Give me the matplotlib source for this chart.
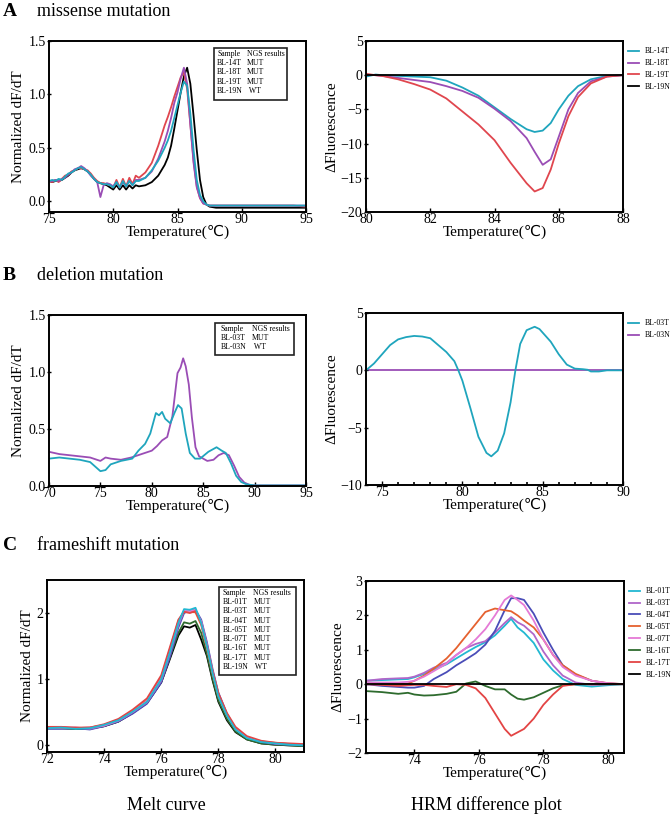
import matplotlib
matplotlib.use("Agg")
import matplotlib.pyplot as plt
from matplotlib.patches import Rectangle
from matplotlib.lines import Line2D

plt.rcParams['font.family'] = ['Liberation Serif', 'DejaVu Sans']
plt.rcParams['mathtext.fontset'] = 'stix'

W, H = 671, 818

# ---------------- Panel A : missense mutation ----------------
a_melt_temp = [75.0, 75.25, 75.5, 75.75, 76.0, 76.25, 76.5, 76.75, 77.0, 77.25, 77.5, 77.75, 78.0, 78.25,
               78.5, 78.75, 79.0, 79.25, 79.5, 79.75, 80.0, 80.25, 80.5, 80.75, 81.0, 81.25, 81.5, 81.75,
               82.0, 82.5, 83.0, 83.5, 84.0, 84.25, 84.5, 84.75, 85.0, 85.25, 85.5, 85.75, 86.0, 86.25,
               86.5, 86.75, 87.0, 87.25, 87.5, 88.0, 89.0, 90.0, 91.0, 92.0, 93.0, 94.0, 95.0]
a_melt_19N = [0.19, 0.18, 0.19, 0.19, 0.20, 0.22, 0.24, 0.27, 0.29, 0.30, 0.31, 0.30, 0.28, 0.25,
              0.21, 0.18, 0.17, 0.16, 0.15, 0.13, 0.11, 0.15, 0.11, 0.15, 0.11, 0.15, 0.12, 0.15,
              0.14, 0.15, 0.18, 0.24, 0.34, 0.41, 0.52, 0.68, 0.85, 1.02, 1.17, 1.25, 1.10, 0.80,
              0.48, 0.20, 0.04, -0.03, -0.05, -0.06, -0.06, -0.06, -0.06, -0.06, -0.06, -0.06, -0.06]
a_melt_19T = [0.19, 0.18, 0.20, 0.18, 0.21, 0.24, 0.25, 0.28, 0.29, 0.31, 0.31, 0.30, 0.29, 0.26,
              0.22, 0.19, 0.17, 0.17, 0.16, 0.15, 0.13, 0.20, 0.13, 0.21, 0.14, 0.22, 0.16, 0.24,
              0.22, 0.27, 0.36, 0.52, 0.71, 0.79, 0.88, 0.98, 1.07, 1.16, 1.21, 1.05, 0.72, 0.38,
              0.14, 0.03, -0.02, -0.03, -0.04, -0.04, -0.04, -0.04, -0.04, -0.04, -0.04, -0.04, -0.05]
a_melt_18T = [0.19, 0.19, 0.20, 0.19, 0.21, 0.22, 0.25, 0.27, 0.30, 0.31, 0.33, 0.31, 0.28, 0.24,
              0.21, 0.18, 0.04, 0.15, 0.17, 0.16, 0.14, 0.18, 0.13, 0.18, 0.14, 0.19, 0.15, 0.20,
              0.20, 0.22, 0.28, 0.40, 0.56, 0.66, 0.78, 0.92, 1.02, 1.15, 1.25, 1.10, 0.72, 0.36,
              0.13, 0.03, -0.02, -0.03, -0.04, -0.04, -0.04, -0.04, -0.04, -0.04, -0.04, -0.04, -0.04]
a_melt_14T = [0.19, 0.20, 0.19, 0.21, 0.20, 0.23, 0.26, 0.27, 0.29, 0.31, 0.32, 0.30, 0.28, 0.25,
              0.21, 0.18, 0.17, 0.16, 0.16, 0.15, 0.13, 0.18, 0.13, 0.19, 0.14, 0.19, 0.15, 0.19,
              0.19, 0.22, 0.29, 0.38, 0.50, 0.57, 0.66, 0.78, 0.90, 1.02, 1.12, 1.08, 0.82, 0.48,
              0.20, 0.06, 0.00, -0.03, -0.04, -0.04, -0.04, -0.04, -0.04, -0.04, -0.04, -0.04, -0.04]

a_diff_temp = [80.0, 80.3, 80.5, 81.0, 81.5, 82.0, 82.5, 83.0, 83.5, 84.0, 84.5, 85.0, 85.25, 85.5,
               85.75, 86.0, 86.3, 86.6, 87.0, 87.5, 88.0]
a_diff_14T = [-0.2, 0.1, 0.0, -0.1, -0.2, -0.3, -0.8, -1.8, -3.0, -4.7, -6.4, -7.9, -8.3, -8.1,
              -7.0, -5.0, -3.0, -1.6, -0.6, -0.1, 0.0]
a_diff_18T = [0.1, 0.0, -0.1, -0.4, -0.7, -1.0, -1.6, -2.3, -3.3, -4.9, -6.7, -9.2, -11.2, -13.1,
              -12.3, -9.0, -5.0, -2.6, -0.9, -0.2, 0.0]
a_diff_19T = [0.2, 0.0, -0.1, -0.6, -1.3, -2.1, -3.4, -5.3, -7.2, -9.5, -12.8, -15.8, -17.0, -16.5,
              -13.8, -10.0, -6.0, -3.2, -1.2, -0.2, 0.0]
a_diff_19N = [0.0] * len(a_diff_temp)

# ---------------- Panel B : deletion mutation ----------------
b_melt_temp_T = [70.0, 71.0, 72.0, 73.0, 74.0, 74.5, 75.0, 75.5, 76.0, 77.0, 78.1, 78.7, 79.35, 79.85,
                 80.4, 80.7, 81.0, 81.3, 81.8, 82.2, 82.55, 82.9, 83.3, 83.7, 84.2, 84.7, 85.1, 85.5,
                 86.3, 86.8, 87.2, 87.7, 88.2, 88.7, 89.2, 90.0, 92.0, 95.0]
b_melt_03T = [0.24, 0.25, 0.24, 0.23, 0.21, 0.17, 0.13, 0.14, 0.19, 0.22, 0.24, 0.31, 0.37, 0.46,
              0.64, 0.62, 0.65, 0.59, 0.55, 0.64, 0.71, 0.68, 0.46, 0.29, 0.24, 0.24, 0.27, 0.30,
              0.34, 0.31, 0.29, 0.20, 0.09, 0.035, 0.015, 0.005, 0.005, 0.005]
b_melt_temp_N = [70.0, 71.0, 72.0, 73.0, 74.0, 75.0, 75.5, 76.0, 77.0, 78.0, 79.0, 80.0, 80.5, 81.0,
                 81.5, 82.0, 82.5, 82.8, 83.05, 83.3, 83.6, 83.9, 84.25, 84.6, 85.4, 86.0, 86.5,
                 87.0, 87.5, 88.0, 88.5, 89.0, 89.5, 90.0, 92.0, 95.0]
b_melt_03N = [0.30, 0.28, 0.27, 0.26, 0.25, 0.22, 0.25, 0.24, 0.23, 0.25, 0.28, 0.31, 0.35, 0.40,
              0.43, 0.61, 0.99, 1.04, 1.12, 1.05, 0.89, 0.60, 0.34, 0.26, 0.22, 0.23, 0.27,
              0.29, 0.27, 0.18, 0.08, 0.03, 0.01, 0.005, 0.005, 0.005]

b_diff_temp = [74.0, 74.5, 75.0, 75.5, 76.0, 76.5, 77.0, 77.5, 78.0, 78.5, 79.0, 79.5, 79.75, 80.0,
               80.5, 81.0, 81.5, 81.8, 82.2, 82.6, 83.0, 83.3, 83.6, 84.0, 84.5, 84.8, 85.5, 86.0,
               86.5, 87.0, 87.5, 87.8, 88.0, 88.5, 89.0, 90.0]
b_diff_03T = [0.0, 0.6, 1.4, 2.2, 2.7, 2.9, 3.0, 2.95, 2.8, 2.2, 1.6, 0.8, 0.0, -0.9,
              -3.3, -5.8, -7.2, -7.5, -7.0, -5.5, -2.8, 0.0, 2.3, 3.5, 3.8, 3.6, 2.5, 1.4,
              0.5, 0.15, 0.1, 0.05, -0.1, -0.1, 0.0, 0.0]
b_diff_03N = [0.0] * len(b_diff_temp)

# ---------------- Panel C : frameshift mutation ----------------
c_melt_temp = [72.0, 72.5, 73.0, 73.5, 74.0, 74.5, 75.0, 75.5, 76.0, 76.3, 76.6, 76.8, 77.0, 77.2,
               77.4, 77.6, 77.8, 78.0, 78.3, 78.6, 79.0, 79.5, 80.0, 80.5, 81.0]
c_melt_01T = [0.26, 0.27, 0.25, 0.26, 0.31, 0.38, 0.51, 0.66, 1.00, 1.40, 1.85, 2.06, 2.05, 2.08,
              1.85, 1.50, 1.09, 0.74, 0.45, 0.24, 0.11, 0.05, 0.03, 0.01, 0.00]
c_melt_03T = [0.27, 0.26, 0.27, 0.25, 0.30, 0.37, 0.50, 0.65, 0.98, 1.38, 1.82, 2.03, 2.05, 2.04,
              1.88, 1.53, 1.12, 0.78, 0.47, 0.25, 0.12, 0.06, 0.03, 0.02, 0.01]
c_melt_04T = [0.25, 0.25, 0.26, 0.24, 0.29, 0.36, 0.48, 0.63, 0.95, 1.33, 1.78, 2.00, 2.04, 2.05,
              1.90, 1.56, 1.15, 0.80, 0.48, 0.26, 0.12, 0.05, 0.02, 0.01, 0.00]
c_melt_05T = [0.28, 0.27, 0.26, 0.27, 0.31, 0.39, 0.52, 0.68, 1.03, 1.45, 1.88, 2.03, 2.02, 2.01,
              1.82, 1.47, 1.08, 0.74, 0.45, 0.25, 0.12, 0.06, 0.04, 0.02, 0.01]
c_melt_07T = [0.27, 0.28, 0.26, 0.27, 0.30, 0.38, 0.51, 0.67, 1.01, 1.42, 1.86, 2.04, 2.03, 2.05,
              1.86, 1.50, 1.10, 0.76, 0.46, 0.25, 0.12, 0.06, 0.03, 0.02, 0.01]
c_melt_16T = [0.26, 0.26, 0.25, 0.25, 0.29, 0.36, 0.49, 0.64, 0.96, 1.33, 1.70, 1.86, 1.84, 1.88,
              1.70, 1.38, 1.00, 0.68, 0.40, 0.21, 0.09, 0.03, 0.01, 0.00, -0.01]
c_melt_17T = [0.28, 0.28, 0.27, 0.27, 0.32, 0.40, 0.54, 0.71, 1.06, 1.48, 1.90, 2.02, 2.00, 2.03,
              1.84, 1.50, 1.12, 0.79, 0.49, 0.28, 0.14, 0.07, 0.04, 0.03, 0.02]
c_melt_19N = [0.26, 0.26, 0.25, 0.26, 0.29, 0.36, 0.49, 0.64, 0.95, 1.30, 1.66, 1.80, 1.78, 1.82,
              1.60, 1.35, 0.98, 0.66, 0.38, 0.20, 0.09, 0.03, 0.01, 0.00, -0.01]

c_diff_temp = [72.5, 73.0, 73.5, 73.8, 74.0, 74.3, 74.6, 75.0, 75.3, 75.6, 75.9, 76.2, 76.5, 76.8,
               77.0, 77.2, 77.4, 77.7, 78.0, 78.3, 78.6, 79.0, 79.5, 80.0, 80.5]
c_diff_01T = [0.10, 0.12, 0.14, 0.15, 0.20, 0.30, 0.42, 0.58, 0.75, 0.92, 1.08, 1.22, 1.42, 1.70,
              1.90, 1.65, 1.50, 1.20, 0.72, 0.40, 0.15, -0.02, -0.07, -0.03, 0.00]
c_diff_03T = [0.10, 0.15, 0.17, 0.18, 0.22, 0.33, 0.48, 0.62, 0.85, 1.05, 1.17, 1.25, 1.50, 1.78,
              1.95, 1.80, 1.70, 1.45, 0.95, 0.55, 0.25, 0.05, -0.02, 0.00, 0.00]
c_diff_04T = [0.00, -0.05, -0.08, -0.10, -0.10, -0.05, 0.15, 0.35, 0.55, 0.72, 0.90, 1.15, 1.55, 2.15,
              2.50, 2.50, 2.45, 2.05, 1.50, 1.00, 0.55, 0.28, 0.10, 0.02, 0.00]
c_diff_05T = [0.05, 0.02, 0.00, 0.02, 0.10, 0.25, 0.45, 0.75, 1.05, 1.40, 1.75, 2.10, 2.20, 2.15,
              2.12, 2.00, 1.85, 1.65, 1.30, 0.85, 0.55, 0.30, 0.10, 0.03, 0.00]
c_diff_07T = [0.05, 0.05, 0.05, 0.07, 0.10, 0.22, 0.38, 0.60, 0.85, 1.05, 1.30, 1.60, 2.00, 2.45,
              2.58, 2.45, 2.30, 1.85, 1.30, 0.85, 0.50, 0.25, 0.10, 0.03, 0.00]
c_diff_16T = [-0.20, -0.23, -0.28, -0.25, -0.30, -0.33, -0.32, -0.28, -0.22, 0.02, 0.08, -0.05, -0.15, -0.15,
              -0.30, -0.42, -0.45, -0.38, -0.25, -0.12, -0.03, 0.00, 0.00, 0.00, 0.00]
c_diff_17T = [0.00, -0.02, -0.05, -0.03, -0.02, -0.02, -0.05, -0.08, 0.00, -0.02, -0.12, -0.40, -0.85, -1.30,
              -1.50, -1.40, -1.30, -1.00, -0.60, -0.30, -0.05, 0.00, 0.00, 0.00, 0.00]
c_diff_19N = [0.0] * len(c_diff_temp)

# ---------------- colours ----------------
CYAN = '#1fa5bd'
PURPLE = '#9a4db5'
RED = '#e0464e'
BLACK = '#000000'
C_COLORS = {'BL-01T': '#22b8d2', 'BL-03T': '#b066c9', 'BL-04T': '#4a4db8', 'BL-05T': '#e5612f',
            'BL-07T': '#e57ad6', 'BL-16T': '#2e6b2e', 'BL-17T': '#e34444', 'BL-19N': '#000000'}

fig = plt.figure(figsize=(W / 100, H / 100), dpi=100)


def add_ax(x0, y0, x1, y1):
    return fig.add_axes([x0 / W, 1 - y1 / H, (x1 - x0) / W, (y1 - y0) / H])


def style(ax, ylabel):
    for s in ax.spines.values():
        s.set_linewidth(1.4)
    ax.tick_params(axis='both', labelsize=10, width=1.0, length=3, pad=1)
    ax.tick_params(axis='x', direction='in')
    ax.tick_params(axis='y', direction='inout')
    ax.set_xlabel('Temperature(℃)', fontsize=11, labelpad=-1)
    ax.set_ylabel(ylabel, fontsize=11, labelpad=2)


def ftext(px, py, s, **kw):
    fig.text(px / W, 1 - py / H, s, **kw)


def table_box(x0, y0, x1, y1, col1, col2, rows, rowy):
    fig.patches.append(Rectangle((x0 / W, 1 - y1 / H), (x1 - x0) / W, (y1 - y0) / H,
                                 transform=fig.transFigure, fill=True, facecolor='white',
                                 edgecolor='#222222', lw=1.2, zorder=5))
    for (a, b), yy in zip(rows, rowy):
        ftext(col1, yy, a, fontsize=5.6, va='center', ha='left', zorder=6)
        ftext(col2, yy, b, fontsize=5.6, va='center', ha='left', zorder=6)


def right_legend(ax, handles=None, labels=None):
    kw = dict(loc='upper left', bbox_to_anchor=(1.0, 0.99), frameon=False, fontsize=5.6,
              handlelength=1.4, handletextpad=0.8, labelspacing=0.5, borderaxespad=0.2)
    if handles is None:
        ax.legend(**kw)
    else:
        ax.legend(handles, labels, **kw)


# ---- titles ----
for letter, title, py in [('A', 'missense mutation', 11), ('B', 'deletion mutation', 276),
                          ('C', 'frameshift mutation', 545)]:
    ftext(3, py, letter, fontsize=14, fontweight='bold', va='center')
    ftext(37, py, title, fontsize=13, va='center')

# ---- A left ----
ax = add_ax(49, 41, 306, 212)
ax.plot(a_melt_temp, a_melt_19N, color=BLACK, lw=1.3)
ax.plot(a_melt_temp, a_melt_19T, color=RED, lw=1.3)
ax.plot(a_melt_temp, a_melt_18T, color=PURPLE, lw=1.3)
ax.plot(a_melt_temp, a_melt_14T, color=CYAN, lw=1.3)
ax.set_xlim(75, 95)
ax.set_ylim(-0.1, 1.5)
ax.set_xticks([75, 80, 85, 90, 95])
ax.set_yticks([0.0, 0.5, 1.0, 1.5])
ax.set_yticklabels(['0.0', '0.5', '1.0', '1.5'])
style(ax, 'Normalized dF/dT')
table_box(214, 48, 287, 100, 217, 247,
          [('Sample', 'NGS results'), ('BL-14T', 'MUT'), ('BL-18T', 'MUT'), ('BL-19T', 'MUT'),
           ('BL-19N', ' WT')], [54.3, 63, 72.3, 81.7, 90.7])

# ---- A right ----
ax = add_ax(366, 41, 623, 212)
ax.plot(a_diff_temp, a_diff_14T, color=CYAN, lw=1.3, label='BL-14T')
ax.plot(a_diff_temp, a_diff_18T, color=PURPLE, lw=1.3, label='BL-18T')
ax.plot(a_diff_temp, a_diff_19T, color=RED, lw=1.3, label='BL-19T')
ax.plot(a_diff_temp, a_diff_19N, color=BLACK, lw=1.3, label='BL-19N')
ax.set_xlim(80, 88)
ax.set_ylim(-20, 5)
ax.set_xticks([80, 82, 84, 86, 88])
ax.set_yticks([-20, -15, -10, -5, 0, 5])
style(ax, 'ΔFluorescence')
right_legend(ax)

# ---- B left ----
ax = add_ax(49, 315, 306, 486)
ax.plot(b_melt_temp_N, b_melt_03N, color=PURPLE, lw=1.3)
ax.plot(b_melt_temp_T, b_melt_03T, color=CYAN, lw=1.3)
ax.set_xlim(70, 95)
ax.set_ylim(0, 1.5)
ax.set_xticks([70, 75, 80, 85, 90, 95])
ax.set_yticks([0.0, 0.5, 1.0, 1.5])
ax.set_yticklabels(['0.0', '0.5', '1.0', '1.5'])
style(ax, 'Normalized dF/dT')
table_box(215, 323, 294, 355, 220.7, 251.7,
          [('Sample', 'NGS results'), ('BL-03T', 'MUT'), ('BL-03N', ' WT')],
          [328.7, 337.7, 346.7])

# ---- B right ----
ax = add_ax(366, 313, 623, 485)
ax.plot(b_diff_temp, b_diff_03N, color=PURPLE, lw=1.3, zorder=1)
ax.plot(b_diff_temp, b_diff_03T, color=CYAN, lw=1.3, zorder=2)
ax.set_xlim(74, 90)
ax.set_ylim(-10, 5)
ax.set_xticks([75, 80, 85, 90])
ax.set_xticks(list(range(74, 91)), minor=True)
ax.tick_params(axis='x', which='minor', direction='in', length=2.5, width=1.2)
ax.set_yticks([-10, -5, 0, 5])
style(ax, 'ΔFluorescence')
right_legend(ax, [Line2D([], [], color=CYAN, lw=1.3), Line2D([], [], color=PURPLE, lw=1.3)],
             ['BL-03T', 'BL-03N'])

# ---- C left ----
ax = add_ax(47, 580, 304, 752)
c_melt = [('BL-19N', c_melt_19N), ('BL-16T', c_melt_16T), ('BL-04T', c_melt_04T),
          ('BL-03T', c_melt_03T), ('BL-05T', c_melt_05T), ('BL-07T', c_melt_07T),
          ('BL-17T', c_melt_17T), ('BL-01T', c_melt_01T)]
for name, vals in c_melt:
    ax.plot(c_melt_temp, vals, color=C_COLORS[name], lw=1.3)
ax.set_xlim(72, 81)
ax.set_ylim(-0.1, 2.5)
ax.set_xticks([72, 74, 76, 78, 80])
ax.set_yticks([0, 1, 2])
style(ax, 'Normalized dF/dT')
table_box(219, 587, 296, 675, 222.3, 253.3,
          [('Sample', 'NGS results'), ('BL-01T', 'MUT'), ('BL-03T', 'MUT'), ('BL-04T', 'MUT'),
           ('BL-05T', 'MUT'), ('BL-07T', 'MUT'), ('BL-16T', 'MUT'), ('BL-17T', 'MUT'),
           ('BL-19N', ' WT')],
          [592.7, 602, 611.3, 620.7, 630, 639, 648.3, 657.7, 667])

# ---- C right ----
ax = add_ax(366, 581, 624, 753)
c_diff = [('BL-01T', c_diff_01T), ('BL-03T', c_diff_03T), ('BL-04T', c_diff_04T),
          ('BL-05T', c_diff_05T), ('BL-07T', c_diff_07T), ('BL-16T', c_diff_16T),
          ('BL-17T', c_diff_17T), ('BL-19N', c_diff_19N)]
for name, vals in c_diff:
    ax.plot(c_diff_temp, vals, color=C_COLORS[name], lw=1.3, label=name)
ax.set_xlim(72.5, 80.5)
ax.set_ylim(-2, 3)
ax.set_xticks([74, 76, 78, 80])
ax.set_yticks([-2, -1, 0, 1, 2, 3])
style(ax, 'ΔFluorescence')
right_legend(ax)

# ---- bottom captions ----
ftext(166, 805, 'Melt curve', fontsize=13, ha='center', va='center')
ftext(486, 805, 'HRM difference plot', fontsize=13, ha='center', va='center')

fig.savefig('out.png', dpi=100)
